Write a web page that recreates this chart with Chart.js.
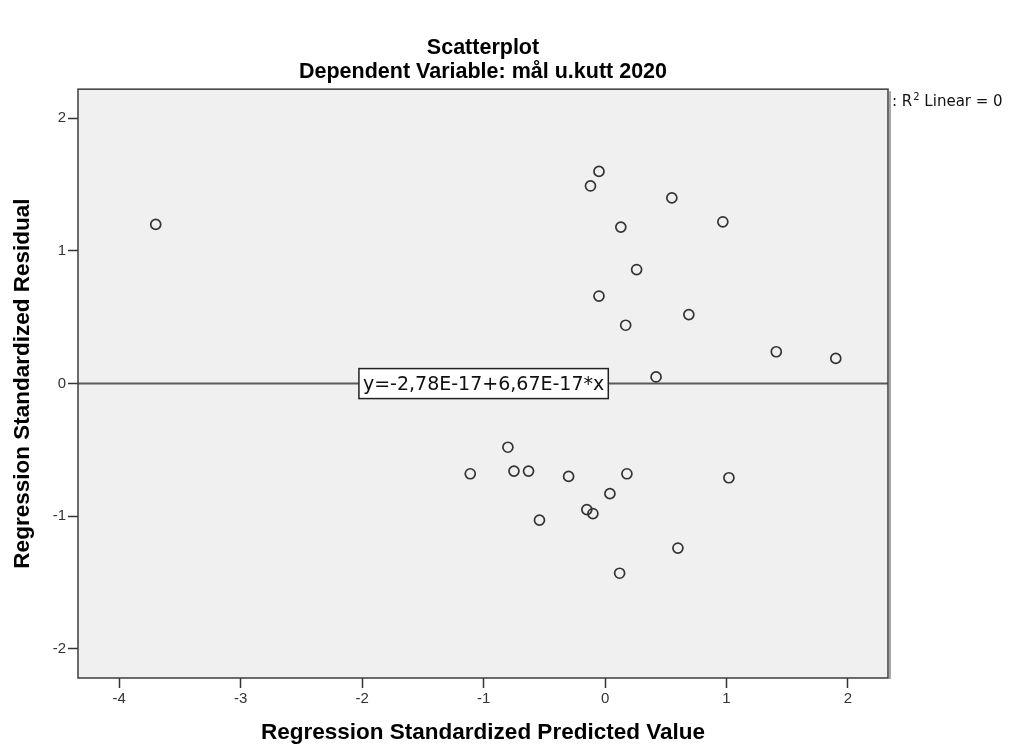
<!DOCTYPE html>
<html>
<head>
<meta charset="utf-8">
<title>Scatterplot</title>
<script src="https://cdn.jsdelivr.net/npm/chart.js@4.4.0/dist/chart.umd.min.js"></script>
<style>
    html, body { margin: 0; padding: 0; background: #fff; }
</style>
</head>
<body>
<canvas id="graficoResiduos" width="1012" height="746"></canvas>
<script>
// =============================
// Dados
// =============================
const predicted = [-3.70, -0.05, -0.12, 0.55, 0.97, 0.13, 0.26, -0.05, 0.17, 0.69, 1.41, 1.90, 0.42,
    -0.80, -1.11, -0.75, -0.63, -0.30, 0.18, 1.02, 0.04, -0.15, -0.10, -0.54, 0.60, 0.12];
const residual = [1.20, 1.60, 1.49, 1.40, 1.22, 1.18, 0.86, 0.66, 0.44, 0.52, 0.24, 0.19, 0.05,
    -0.48, -0.68, -0.66, -0.66, -0.70, -0.68, -0.71, -0.83, -0.95, -0.98, -1.03, -1.24, -1.43];

const xTicks = [-4, -3, -2, -1, 0, 1, 2];
const yTicks = [-2, -1, 0, 1, 2];
const xRange = [-4.34, 2.33];
const yRange = [-2.22, 2.22];

// linha de ajuste (y = 0 em toda a faixa)
const fitLineX = [-4.34, 2.33];
const fitLineY = [0, 0];
const fitLabel = "y=-2,78E-17+6,67E-17*x";
const fitLabelAt = [-1, 0];

const titleLines = ["Scatterplot", "Dependent Variable: mål u.kutt 2020"];
const xTitle = "Regression Standardized Predicted Value";
const yTitle = "Regression Standardized Residual";
const legendParts = [": R", "2", " Linear = 0"];

const fonteTitulo = { family: "'Liberation Sans', Arial, sans-serif", size: 21.5, weight: "bold", lineHeight: 1.12 };
const fonteEixo = { family: "'Liberation Sans', Arial, sans-serif", size: 22.5, weight: "bold" };
const fonteTicks = { family: "'Liberation Sans', Arial, sans-serif", size: 15 };

// =============================
// Plugin: fundo, moldura, rótulo da reta e legenda
// =============================
const molduraPlugin = {
    id: "moldura",
    beforeDraw(chart) {
        const { ctx, chartArea: a } = chart;
        ctx.save();
        ctx.fillStyle = "#f0f0f0";
        ctx.fillRect(a.left, a.top, a.right - a.left, a.bottom - a.top);
        ctx.restore();
    },
    afterDraw(chart) {
        const { ctx, chartArea: a, scales } = chart;
        ctx.save();

        // sombra clara à direita
        ctx.strokeStyle = "#a8a8a8";
        ctx.lineWidth = 2;
        ctx.beginPath();
        ctx.moveTo(a.right + 2, a.top + 2);
        ctx.lineTo(a.right + 2, a.bottom + 1);
        ctx.stroke();

        // moldura
        ctx.strokeStyle = "#3c3c3c";
        ctx.lineWidth = 1.5;
        ctx.strokeRect(a.left, a.top, a.right - a.left, a.bottom - a.top);

        // caixa com a equação
        ctx.font = "19px 'DejaVu Sans', sans-serif";
        const w = ctx.measureText(fitLabel).width;
        const cx = scales.x.getPixelForValue(fitLabelAt[0]);
        const cy = scales.y.getPixelForValue(fitLabelAt[1]);
        const bw = w + 8, bh = 30;
        ctx.fillStyle = "#fff";
        ctx.fillRect(cx - bw / 2, cy - bh / 2, bw, bh);
        ctx.strokeStyle = "#222";
        ctx.lineWidth = 1.5;
        ctx.strokeRect(cx - bw / 2, cy - bh / 2, bw, bh);
        ctx.fillStyle = "#111";
        ctx.textAlign = "center";
        ctx.textBaseline = "middle";
        ctx.fillText(fitLabel, cx, cy + 1);

        // legenda "R² Linear = 0"
        let x = a.right + 4;
        const y = a.top + 13;
        ctx.textAlign = "left";
        ctx.textBaseline = "middle";
        ctx.fillStyle = "#111";
        ctx.font = "15px 'DejaVu Sans', sans-serif";
        ctx.fillText(legendParts[0], x, y);
        x += ctx.measureText(legendParts[0]).width + 1;
        ctx.font = "10px 'DejaVu Sans', sans-serif";
        ctx.fillText(legendParts[1], x, y - 5);
        x += ctx.measureText(legendParts[1]).width;
        ctx.font = "15px 'DejaVu Sans', sans-serif";
        ctx.fillText(legendParts[2], x, y);

        ctx.restore();
    }
};

// =============================
// Gráfico
// =============================
const pontos = predicted.map((v, i) => ({ x: v, y: residual[i] }));
const reta = fitLineX.map((v, i) => ({ x: v, y: fitLineY[i] }));

new Chart(document.getElementById("graficoResiduos"), {
    type: "scatter",
    data: {
        datasets: [
            {
                type: "line",
                data: reta,
                borderColor: "#5a5a5a",
                borderWidth: 2,
                pointRadius: 0,
                order: 2
            },
            {
                data: pontos,
                pointRadius: 5,
                pointBorderWidth: 1.7,
                pointBorderColor: "#333",
                pointBackgroundColor: "rgba(0,0,0,0)",
                order: 1
            }
        ]
    },
    options: {
        responsive: false,
        animation: false,
        devicePixelRatio: 1,
        layout: { padding: { left: 0, right: 124, top: 0, bottom: 0 } },
        plugins: {
            legend: { display: false },
            tooltip: { enabled: false },
            title: {
                display: true,
                fullSize: false,
                text: titleLines,
                color: "#000",
                font: fonteTitulo,
                padding: { top: 36, bottom: 5 }
            }
        },
        scales: {
            x: {
                type: "linear",
                min: xRange[0],
                max: xRange[1],
                afterBuildTicks: s => { s.ticks = xTicks.map(v => ({ value: v })); },
                afterFit: s => { s.height = 68; },
                border: { display: false },
                grid: { drawOnChartArea: false, drawTicks: true, tickLength: 10, tickColor: "#333", tickWidth: 1.5 },
                ticks: { font: fonteTicks, color: "#333", padding: 2 },
                title: { display: true, text: xTitle, color: "#000", font: fonteEixo, padding: { top: 0, bottom: 0 } }
            },
            y: {
                type: "linear",
                min: yRange[0],
                max: yRange[1],
                afterBuildTicks: s => { s.ticks = yTicks.map(v => ({ value: v })); },
                afterFit: s => { s.width = 78; },
                border: { display: false },
                grid: { drawOnChartArea: false, drawTicks: true, tickLength: 10, tickColor: "#333", tickWidth: 1.5 },
                ticks: { font: fonteTicks, color: "#333", padding: 2 },
                title: { display: true, text: yTitle, color: "#000", font: fonteEixo, padding: { top: 9, bottom: 0 } }
            }
        }
    },
    plugins: [molduraPlugin]
});
</script>
</body>
</html>
